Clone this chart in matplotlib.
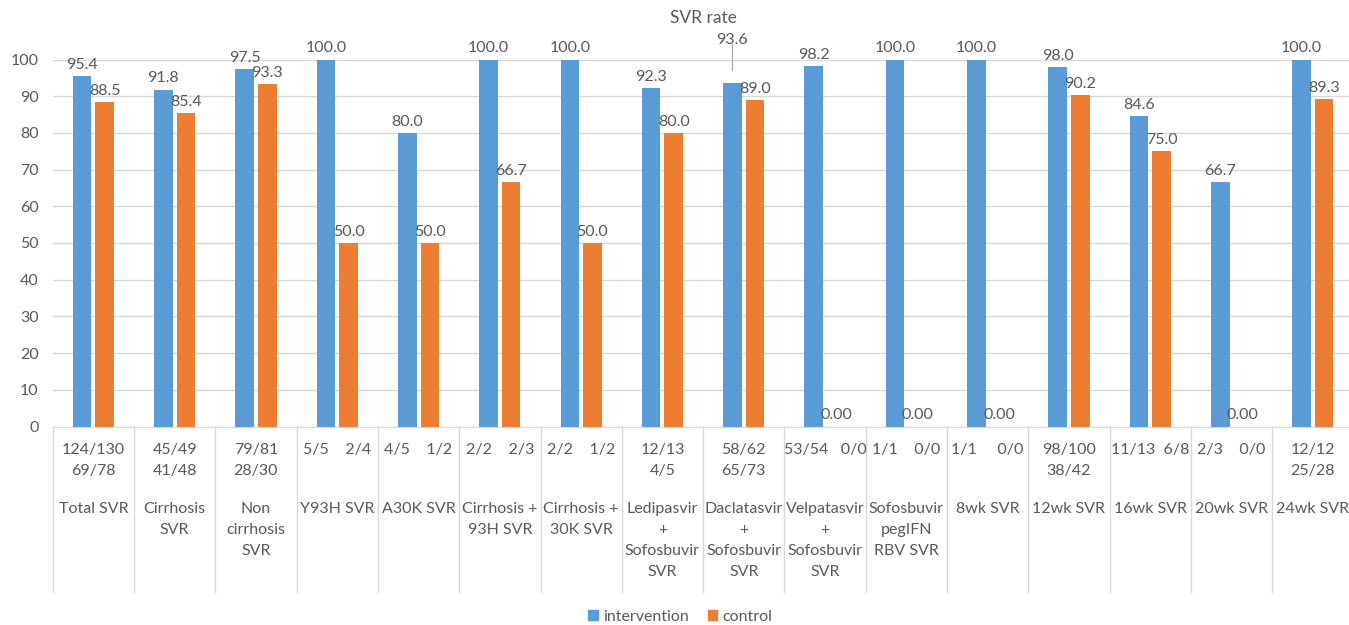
import matplotlib
matplotlib.use("Agg")
import matplotlib.pyplot as plt
import matplotlib.transforms as mtransforms
from matplotlib.lines import Line2D
from matplotlib.patches import Patch
import numpy as np

# ---- data -------------------------------------------------------------
categories = ["Total SVR", "Cirrhosis\nSVR", "Non\ncirrhosis\nSVR", "Y93H SVR",
              "A30K SVR", "Cirrhosis +\n93H SVR", "Cirrhosis +\n30K SVR",
              "Ledipasvir\n+\nSofosbuvir\nSVR", "Daclatasvir\n+\nSofosbuvir\nSVR",
              "Velpatasvir\n+\nSofosbuvir\nSVR", "Sofosbuvir\npegIFN\nRBV SVR",
              "8wk SVR", "12wk SVR", "16wk SVR", "20wk SVR", "24wk SVR"]
fractions = ["124/130\n69/78", "45/49\n41/48", "79/81\n28/30", "5/5    2/4",
             "4/5    1/2", "2/2    2/3", "2/2    1/2", "12/13\n4/5",
             "58/62\n65/73", "53/54   0/0", "1/1    0/0", "1/1     0/0",
             "98/100\n38/42", "11/13  6/8", "2/3    0/0", "12/12\n25/28"]
intervention = [95.4, 91.8, 97.5, 100.0, 80.0, 100.0, 100.0, 92.3, 93.6,
                98.2, 100.0, 100.0, 98.0, 84.6, 66.7, 100.0]
control = [88.5, 85.4, 93.3, 50.0, 50.0, 66.7, 50.0, 80.0, 89.0,
           0.0, 0.0, 0.0, 90.2, 75.0, 0.0, 89.3]
yticks = list(range(0, 101, 10))

# ---- style ------------------------------------------------------------
plt.rcParams["font.family"] = ["Lato", "DejaVu Sans"]
TXT = "#595959"
GRID = "#D9D9D9"
BLUE = "#5B9BD5"
ORANGE = "#ED7D31"
FS = 11.5
LS = 1.64

W, H = 1349, 625
fig = plt.figure(figsize=(W / 100, H / 100), dpi=100)
ax = fig.add_axes([52.7 / W, 1 - 426.5 / H, 1300.8 / W, 367 / H])

x = np.arange(len(categories))
bw = 0.228
off = 0.139
ax.bar(x - off, intervention, bw, color=BLUE, zorder=3, label="intervention")
ax.bar(x + off, control, bw, color=ORANGE, zorder=3, label="control")

ax.set_xlim(-0.5, len(categories) - 0.5)
ax.set_ylim(0, 100)
ax.set_yticks(yticks)
ax.tick_params(axis="y", length=0, labelsize=FS, labelcolor=TXT, pad=10)
ax.set_xticks([])
ax.grid(axis="y", color=GRID, linewidth=1, zorder=0)
for s in ["top", "right", "left"]:
    ax.spines[s].set_visible(False)
ax.spines["bottom"].set_color(GRID)
ax.spines["bottom"].set_zorder(4)


def fmt(v):
    return "0.00" if v == 0 else f"{v:.1f}"


# value labels above the bars
for xi, v in zip(x - off, intervention):
    if v == 93.6:
        ax.annotate(fmt(v), (xi, v), xytext=(0, 26), textcoords="offset points",
                    ha="center", va="bottom", fontsize=FS, color=TXT,
                    annotation_clip=False)
        ax.plot([xi, xi], [v + 3.5, v + 10.5], color="#A6A6A6", lw=0.8,
                clip_on=False, zorder=4)
    else:
        ax.annotate(fmt(v), (xi, v), xytext=(0, 3), textcoords="offset points",
                    ha="center", va="bottom", fontsize=FS, color=TXT,
                    annotation_clip=False)
for xi, v in zip(x + off, control):
    ax.annotate(fmt(v), (xi, v), xytext=(0, 3), textcoords="offset points",
                ha="center", va="bottom", fontsize=FS, color=TXT,
                annotation_clip=False)

# two-level category axis
trans = mtransforms.blended_transform_factory(ax.transData, fig.transFigure)
for i in range(len(categories) + 1):
    ax.add_line(Line2D([i - 0.5, i - 0.5], [1 - 426.5 / H, 1 - 592 / H],
                       transform=trans, color=GRID, lw=1, clip_on=False))
for i, (frac, cat) in enumerate(zip(fractions, categories)):
    ax.text(i, 1 - 443 / H, frac, transform=trans, ha="center", va="top",
            fontsize=FS, color=TXT, linespacing=LS)
    ax.text(i, 1 - 502 / H, cat, transform=trans, ha="center", va="top",
            fontsize=FS, color=TXT, linespacing=LS)

fig.text(703 / W, 1 - 18 / H, "SVR rate", ha="center", va="center",
         fontsize=12.5, color=TXT)

handles = [Patch(color=BLUE, label="intervention"),
           Patch(color=ORANGE, label="control")]
fig.legend(handles=handles, loc="center", bbox_to_anchor=(680 / W, 1 - 617 / H),
           ncol=2, frameon=False, fontsize=FS, labelcolor=TXT,
           handlelength=0.6, handleheight=0.6, handletextpad=0.3,
           columnspacing=1.2)

fig.savefig("out.png", dpi=100)
